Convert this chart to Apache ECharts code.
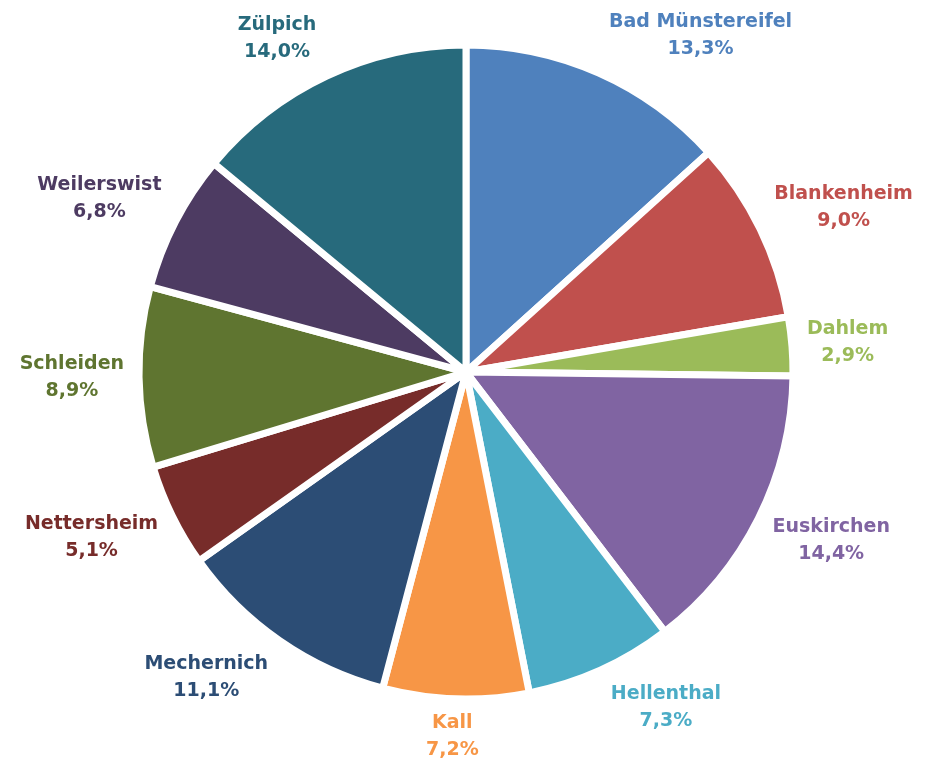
<!DOCTYPE html>
<html>
<head>
<meta charset="utf-8">
<script src="https://cdn.jsdelivr.net/npm/echarts@6/dist/echarts.min.js"></script>
<style>
  html, body { margin: 0; padding: 0; background: #fff; }
  #chart { width: 930px; height: 763px; }
</style>
</head>
<body>
<div id="chart"></div>
<script>
const names = ['Bad Münstereifel', 'Blankenheim', 'Dahlem', 'Euskirchen', 'Hellenthal', 'Kall',
  'Mechernich', 'Nettersheim', 'Schleiden', 'Weilerswist', 'Zülpich']
const shares = [13.3, 9.0, 2.9, 14.4, 7.3, 7.2, 11.1, 5.1, 8.9, 6.8, 14.0]
const colors = ['#4F81BD', '#C0504D', '#9BBB59', '#8064A2', '#4BACC6', '#F79646',
  '#2C4D75', '#772C2A', '#5F7530', '#4D3B62', '#276A7C']

const cx = 466
const cy = 372
const radius = 327
const total = shares.reduce((a, b) => a + b, 0)

const clamp = (v) => Math.max(-1, Math.min(1, v))

// Labels sit outside the slice edge, centred like in Excel ("outside end")
function placeLabel (params) {
  const i = params.dataIndex
  let before = 0
  for (let k = 0; k < i; k++) before += shares[k]
  const mid = (before + shares[i] / 2) / total * Math.PI * 2
  const ux = Math.sin(mid)
  const uy = -Math.cos(mid)
  const r = radius - 4 + 12
  const w = params.labelRect.width + 14
  const h = params.labelRect.height + 6
  return {
    x: cx + r * ux + clamp(ux * 3) * w / 2,
    y: cy + r * uy + clamp(uy * 1.4) * h / 2,
    align: 'center',
    verticalAlign: 'middle'
  }
}

const chart = echarts.init(document.getElementById('chart'))
chart.setOption({
  animation: false,
  series: [{
    type: 'pie',
    center: [cx, cy],
    radius: radius,
    startAngle: 90,
    clockwise: true,
    avoidLabelOverlap: false,
    data: names.map((n, i) => ({
      name: n,
      value: shares[i],
      itemStyle: { color: colors[i] },
      label: { color: colors[i] }
    })),
    itemStyle: { borderColor: '#fff', borderWidth: 7 },
    label: {
      show: true,
      position: 'outside',
      fontFamily: 'DejaVu Sans',
      fontWeight: 'bold',
      fontSize: 19,
      lineHeight: 27,
      formatter: (p) => p.name + '\n' + p.value.toFixed(1).replace('.', ',') + '%'
    },
    labelLine: { show: false },
    labelLayout: placeLabel
  }]
})
</script>
</body>
</html>
